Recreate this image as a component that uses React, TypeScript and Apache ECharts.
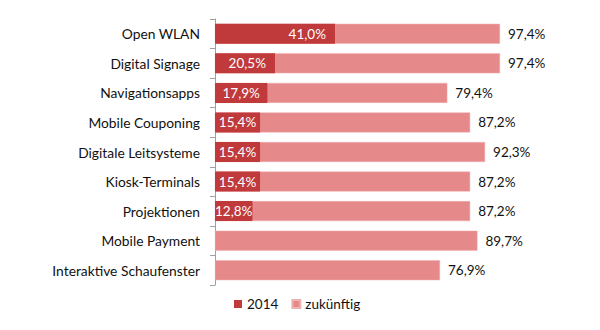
import React, { useEffect, useRef } from "react";
import * as echarts from "echarts";

const categories = [
  "Open WLAN",
  "Digital Signage",
  "Navigationsapps",
  "Mobile Couponing",
  "Digitale Leitsysteme",
  "Kiosk-Terminals",
  "Projektionen",
  "Mobile Payment",
  "Interaktive Schaufenster",
];
const values2014: (number | null)[] = [41.0, 20.5, 17.9, 15.4, 15.4, 15.4, 12.8, null, null];
const valuesFuture = [97.4, 97.4, 79.4, 87.2, 92.3, 87.2, 87.2, 89.7, 76.9];
const seriesNames = ["2014", "zukünftig"];

const fmt = (v: number) => v.toFixed(1).replace(".", ",") + "%";
const FONT = "Lato, 'Open Sans', sans-serif";

export default function App() {
  const ref = useRef<HTMLDivElement>(null);
  useEffect(() => {
    if (!ref.current) return;
    const chart = echarts.init(ref.current, undefined, { renderer: "svg" });
    const data2014 = values2014.map((v) =>
      v == null
        ? null
        : {
            value: v,
            label: v >= 19 ? { position: "insideRight", distance: 9 } : { position: "inside" },
          }
    );
    chart.setOption({
      animation: false,
      backgroundColor: "#ffffff",
      textStyle: { fontFamily: FONT },
      legend: {
        data: seriesNames,
        left: 229,
        top: 292,
        itemWidth: 8,
        itemHeight: 8,
        itemGap: 13,
        icon: "rect",
        textStyle: { fontSize: 13.5, color: "#111", fontFamily: FONT },
      },
      grid: { left: 215, top: 19, width: 292.6, height: 266 },
      xAxis: {
        type: "value",
        min: 0,
        max: 100,
        show: false,
      },
      yAxis: {
        type: "category",
        data: categories,
        inverse: true,
        axisLine: { show: true, lineStyle: { color: "#a0a0a0", width: 1 } },
        axisTick: { show: true, length: 5, lineStyle: { color: "#a0a0a0" } },
        axisLabel: { fontSize: 13.8, color: "#111", margin: 15, fontFamily: FONT },
      },
      series: [
        {
          name: seriesNames[1],
          type: "bar",
          data: valuesFuture,
          barWidth: 20,
          itemStyle: { color: "#e6898a", borderColor: "#f0b0b0", borderWidth: 0.5 },
          label: {
            show: true,
            position: "right",
            distance: 8,
            fontSize: 13.5,
            color: "#111",
            fontFamily: FONT,
            formatter: (p: any) => fmt(p.value),
          },
          z: 1,
        },
        {
          name: seriesNames[0],
          type: "bar",
          data: data2014,
          barWidth: 20,
          barGap: "-100%",
          itemStyle: { color: "#c0393b" },
          label: {
            show: true,
            fontSize: 13.5,
            color: "#ffffff",
            fontFamily: FONT,
            formatter: (p: any) => (p.value == null ? "" : fmt(p.value)),
          },
          z: 2,
        },
      ],
    });
    return () => chart.dispose();
  }, []);
  return (
    <div
      ref={ref}
      style={{ position: "fixed", left: 0, top: 0, width: 600, height: 330 }}
    />
  );
}
